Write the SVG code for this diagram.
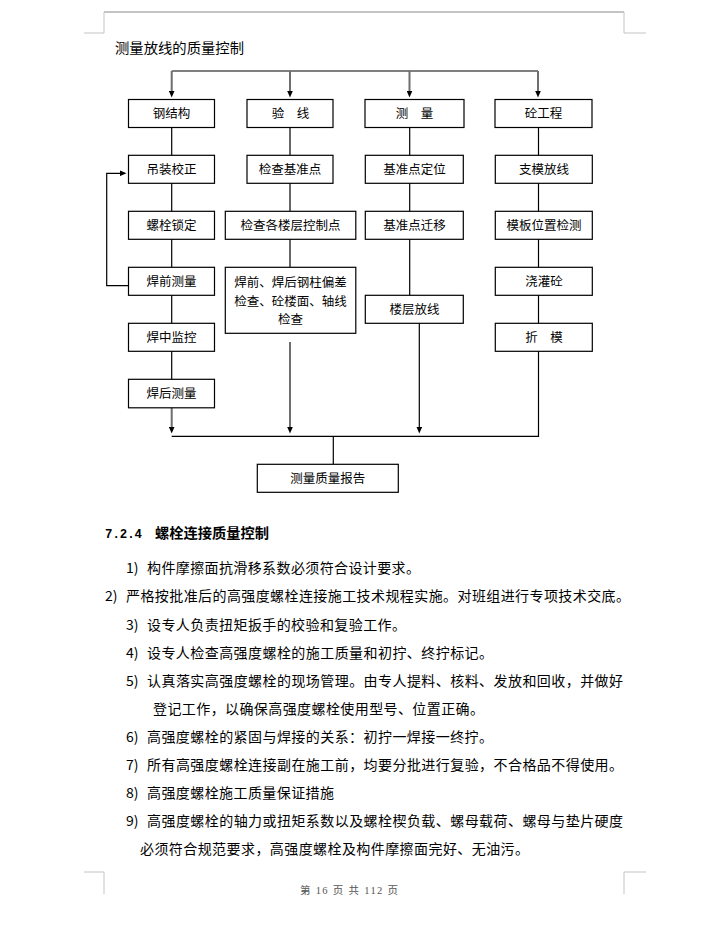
<svg xmlns="http://www.w3.org/2000/svg" width="706" height="936" viewBox="0 0 706 936">
<style>
.bx{fill:#fff;stroke:#000;stroke-width:1.2}
.bt{font-family:"Noto Sans CJK SC","Noto Sans",sans-serif;font-size:12.5px;fill:#000;text-anchor:middle}
.ln{fill:none;stroke:#000;stroke-width:1.2}
.ar{fill:none;stroke:#6e6e6e;stroke-width:2}
.tx{font-family:"Noto Sans CJK SC","Noto Sans",sans-serif;font-size:14px;fill:#000}
.pm{fill:none;stroke:#c4c4c4;stroke-width:1}
</style>
<defs>
<marker id="ah" markerUnits="userSpaceOnUse" markerWidth="7" markerHeight="6" viewBox="0 0 7 6" refX="0.5" refY="3" orient="auto">
<path d="M0,0 L7,3 L0,6 z" fill="#000"/>
</marker>
</defs>
<rect width="706" height="936" fill="#fff"/>
<!-- page marks -->
<g id="pagemarks">
<line x1="104" y1="12" x2="624" y2="12" stroke="#8a8a8a" stroke-width="1"/>
<path class="pm" d="M104,12 V33 H84"/>
<path class="pm" d="M624,12 V33 H646"/>
<path class="pm" d="M84,872 H104 V894"/>
<path class="pm" d="M646,872 H624 V894"/>
</g>
<text x="115" y="52.8" class="tx" textLength="129" lengthAdjust="spacingAndGlyphs">测量放线的质量控制</text>
<!-- connectors -->
<g id="connectors">
<line class="ln" x1="171.7" y1="71" x2="538" y2="71"/>
<line class="ar" x1="171.7" y1="71" x2="171.7" y2="91" marker-end="url(#ah)"/>
<line class="ar" x1="290" y1="71" x2="290" y2="91" marker-end="url(#ah)"/>
<line class="ar" x1="409.5" y1="71" x2="409.5" y2="91" marker-end="url(#ah)"/>
<line class="ar" x1="538" y1="71" x2="538" y2="91" marker-end="url(#ah)"/>
<path class="ln" d="M171.7,127 V155 M171.7,183 V211 M171.7,239 V267 M171.7,295 V323 M171.7,351 V379"/>
<path class="ln" d="M290,127 V155 M290,183 V211 M290,239 V267"/>
<path class="ln" d="M409.7,127 V155 M409.7,183 V211 M409.7,239 V295"/>
<path class="ln" d="M538.5,127 V155 M538.5,183 V211 M538.5,239 V267 M538.5,295 V323"/>
<path class="ln" d="M538.5,351 V436.3 H171.7"/>
<path class="ln" d="M128,285.7 H106.7 V173.3 H120" marker-end="url(#ah)"/>
<line class="ar" x1="171.7" y1="407" x2="171.7" y2="427" marker-end="url(#ah)"/>
<line class="ar" x1="290" y1="342" x2="290" y2="427" marker-end="url(#ah)"/>
<line class="ln" x1="419.3" y1="323" x2="419.3" y2="427" marker-end="url(#ah)"/>
<line class="ln" x1="333.3" y1="436.3" x2="333.3" y2="464.3"/>
</g>
<!-- nodes -->
<g id="n-gjg"><rect class="bx" x="128.5" y="99.5" width="86" height="28"/><text class="bt" x="171.5" y="118.3">钢结构</text></g>
<g id="n-yx"><rect class="bx" x="247" y="99.5" width="86" height="28"/><text class="bt" x="290.5" y="118.3">验　线</text></g>
<g id="n-cl"><rect class="bx" x="365" y="99.5" width="99" height="28"/><text class="bt" x="414.5" y="118.3">测　量</text></g>
<g id="n-tgc"><rect class="bx" x="495" y="99.5" width="97" height="28"/><text class="bt" x="543.5" y="118.3">砼工程</text></g>

<g id="n-dzjz"><rect class="bx" x="128.5" y="155.3" width="86" height="28"/><text class="bt" x="171.5" y="174">吊装校正</text></g>
<g id="n-lssd"><rect class="bx" x="128.5" y="211.3" width="86" height="28"/><text class="bt" x="171.5" y="230">螺栓锁定</text></g>
<g id="n-hqcl"><rect class="bx" x="128.5" y="267.3" width="86" height="28"/><text class="bt" x="171.5" y="286">焊前测量</text></g>
<g id="n-hzjk"><rect class="bx" x="128.5" y="323.3" width="86" height="28"/><text class="bt" x="171.5" y="342">焊中监控</text></g>
<g id="n-hhcl"><rect class="bx" x="128.5" y="379.3" width="86" height="28.5"/><text class="bt" x="171.5" y="398.3">焊后测量</text></g>

<g id="n-jcjzd"><rect class="bx" x="247" y="155.3" width="86" height="28"/><text class="bt" x="290" y="174">检查基准点</text></g>
<g id="n-jcgl"><rect class="bx" x="225.3" y="211.3" width="130.5" height="28"/><text class="bt" x="290.5" y="230">检查各楼层控制点</text></g>
<g id="n-hqhh"><rect class="bx" x="225.3" y="267.3" width="130.5" height="66"/><text class="bt" x="290.5" y="286.5">焊前、焊后钢柱偏差</text><text class="bt" x="290.5" y="305.5">检查、砼楼面、轴线</text><text class="bt" x="290.5" y="323.8">检查</text></g>

<g id="n-jzddw"><rect class="bx" x="365.3" y="155.3" width="98" height="28"/><text class="bt" x="414.5" y="174">基准点定位</text></g>
<g id="n-jzdqy"><rect class="bx" x="365.3" y="211.3" width="98" height="28"/><text class="bt" x="414.5" y="230">基准点迁移</text></g>
<g id="n-lcfx"><rect class="bx" x="365.3" y="295.3" width="98" height="28"/><text class="bt" x="414.5" y="314">楼层放线</text></g>

<g id="n-zmfx"><rect class="bx" x="495.3" y="155.3" width="97" height="28"/><text class="bt" x="544" y="174">支模放线</text></g>
<g id="n-mbwz"><rect class="bx" x="495.3" y="211.3" width="97" height="28"/><text class="bt" x="544" y="230">模板位置检测</text></g>
<g id="n-jgt"><rect class="bx" x="495.3" y="267.3" width="97" height="28"/><text class="bt" x="544" y="286">浇灌砼</text></g>
<g id="n-cm"><rect class="bx" x="495.3" y="323.3" width="97" height="28"/><text class="bt" x="544" y="342">折　模</text></g>

<g id="n-clzlbg"><rect class="bx" x="257.3" y="464.3" width="141" height="28"/><text class="bt" x="327.8" y="483">测量质量报告</text></g>

<!-- section text -->
<g id="section">
<text x="105" y="538" font-family="Liberation Mono,monospace" font-weight="bold" font-size="12.5" fill="#000" textLength="37" lengthAdjust="spacingAndGlyphs">7.2.4</text>
<text x="155" y="538.3" class="tx" font-weight="bold" textLength="114" lengthAdjust="spacingAndGlyphs">螺栓连接质量控制</text>

<text x="126" y="573.3" class="tx">1)</text>
<text x="147" y="573.3" class="tx" textLength="273" lengthAdjust="spacing">构件摩擦面抗滑移系数必须符合设计要求。</text>

<text x="105" y="601.3" class="tx">2)</text>
<text x="126" y="601.3" class="tx" textLength="504" lengthAdjust="spacing">严格按批准后的高强度螺栓连接施工技术规程实施。对班组进行专项技术交底。</text>

<text x="126" y="630.3" class="tx">3)</text>
<text x="147" y="630.3" class="tx" textLength="259" lengthAdjust="spacing">设专人负责扭矩扳手的校验和复验工作。</text>

<text x="126" y="658.3" class="tx">4)</text>
<text x="147" y="658.3" class="tx" textLength="346" lengthAdjust="spacing">设专人检查高强度螺栓的施工质量和初拧、终拧标记。</text>

<text x="126" y="686.3" class="tx">5)</text>
<text x="147" y="686.3" class="tx" textLength="476" lengthAdjust="spacing">认真落实高强度螺栓的现场管理。由专人提料、核料、发放和回收，并做好</text>
<text x="153" y="714.3" class="tx" textLength="331" lengthAdjust="spacing">登记工作，以确保高强度螺栓使用型号、位置正确。</text>

<text x="126" y="742.3" class="tx">6)</text>
<text x="147" y="742.3" class="tx" textLength="346" lengthAdjust="spacing">高强度螺栓的紧固与焊接的关系：初拧一焊接一终拧。</text>

<text x="126" y="770.3" class="tx">7)</text>
<text x="147" y="770.3" class="tx" textLength="476" lengthAdjust="spacing">所有高强度螺栓连接副在施工前，均要分批进行复验，不合格品不得使用。</text>

<text x="126" y="798.3" class="tx">8)</text>
<text x="147" y="798.3" class="tx" textLength="187" lengthAdjust="spacing">高强度螺栓施工质量保证措施</text>

<text x="126" y="826.3" class="tx">9)</text>
<text x="147" y="826.3" class="tx" textLength="476" lengthAdjust="spacing">高强度螺栓的轴力或扭矩系数以及螺栓楔负载、螺母载荷、螺母与垫片硬度</text>
<text x="140" y="854.3" class="tx" textLength="389" lengthAdjust="spacing">必须符合规范要求，高强度螺栓及构件摩擦面完好、无油污。</text>
</g>
<text x="300" y="894" font-family="Liberation Serif,'Noto Sans CJK SC',serif" font-size="10.5" fill="#555" textLength="98" lengthAdjust="spacing">第 16 页 共 112 页</text>
</svg>
